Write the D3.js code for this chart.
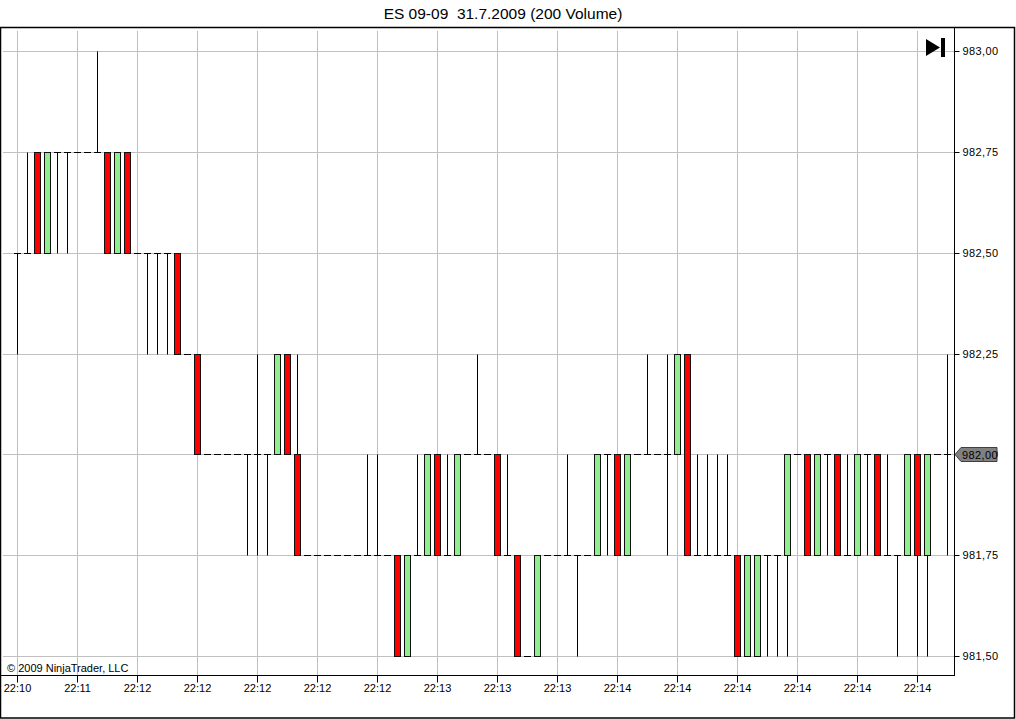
<!DOCTYPE html>
<html>
<head>
<meta charset="utf-8">
<script src="https://cdn.jsdelivr.net/npm/d3@7"></script>
<style>
  html, body { margin: 0; padding: 0; background: #fff; }
  svg { display: block; font-family: "Liberation Sans", Arial, sans-serif; }
</style>
</head>
<body>
<svg id="chart" width="1016" height="719"></svg>
<script>
const title = "ES 09-09  31.7.2009 (200 Volume)";
const copyright = "\u00A9 2009 NinjaTrader, LLC";

// OHLC per 200-volume bar
const opens = [
  982.50,982.50,982.75,982.50,982.75,982.75,982.75,982.75,982.75,982.75,
  982.50,982.75,982.50,982.50,982.50,982.50,982.50,982.25,982.25,982.00,
  982.00,982.00,982.00,982.00,982.00,982.00,982.00,982.25,982.00,981.75,
  981.75,981.75,981.75,981.75,981.75,981.75,981.75,981.75,981.75,981.50,
  981.75,981.75,982.00,981.75,981.75,982.00,982.00,982.00,982.00,981.75,
  981.75,981.50,981.50,981.75,981.75,981.75,981.75,981.75,981.75,982.00,
  982.00,981.75,982.00,982.00,982.00,982.00,982.00,982.25,981.75,981.75,
  981.75,981.75,981.75,981.50,981.50,981.75,981.75,981.75,982.00,982.00,
  981.75,982.00,982.00,981.75,981.75,982.00,982.00,981.75,981.75,981.75,
  982.00,981.75,982.00,982.00
];
const highs = [
  982.50,982.75,982.75,982.75,982.75,982.75,982.75,982.75,983.00,982.75,
  982.75,982.75,982.50,982.50,982.50,982.50,982.50,982.25,982.25,982.00,
  982.00,982.00,982.00,982.00,982.25,982.00,982.25,982.25,982.25,981.75,
  981.75,981.75,981.75,981.75,981.75,982.00,982.00,981.75,981.75,981.75,
  982.00,982.00,982.00,982.00,982.00,982.00,982.25,982.00,982.00,982.00,
  981.75,981.50,981.75,981.75,981.75,982.00,981.75,981.75,982.00,982.00,
  982.00,982.00,982.00,982.25,982.00,982.25,982.25,982.25,982.00,982.00,
  982.00,982.00,981.75,981.75,981.75,981.75,981.75,982.00,982.00,982.00,
  982.00,982.00,982.00,982.00,982.00,982.00,982.00,982.00,981.75,982.00,
  982.00,982.00,982.00,982.25
];
const lows = [
  982.25,982.50,982.50,982.50,982.50,982.50,982.75,982.75,982.75,982.50,
  982.50,982.50,982.50,982.25,982.25,982.25,982.25,982.25,982.00,982.00,
  982.00,982.00,982.00,981.75,981.75,981.75,982.00,982.00,981.75,981.75,
  981.75,981.75,981.75,981.75,981.75,981.75,981.75,981.75,981.50,981.50,
  981.75,981.75,981.75,981.75,981.75,982.00,982.00,982.00,981.75,981.75,
  981.50,981.50,981.50,981.75,981.75,981.75,981.50,981.75,981.75,981.75,
  981.75,981.75,982.00,982.00,982.00,981.75,982.00,981.75,981.75,981.75,
  981.75,981.75,981.50,981.50,981.50,981.50,981.50,981.50,982.00,981.75,
  981.75,981.75,981.75,981.75,981.75,981.75,981.75,981.75,981.50,981.75,
  981.50,981.50,982.00,981.75
];
const closes = [
  982.50,982.50,982.50,982.75,982.75,982.75,982.75,982.75,982.75,982.50,
  982.75,982.50,982.50,982.50,982.50,982.50,982.25,982.25,982.00,982.00,
  982.00,982.00,982.00,982.00,982.00,982.00,982.25,982.00,981.75,981.75,
  981.75,981.75,981.75,981.75,981.75,981.75,981.75,981.75,981.50,981.75,
  981.75,982.00,981.75,981.75,982.00,982.00,982.00,982.00,981.75,981.75,
  981.50,981.50,981.75,981.75,981.75,981.75,981.75,981.75,982.00,982.00,
  981.75,982.00,982.00,982.00,982.00,982.00,982.25,981.75,981.75,981.75,
  981.75,981.75,981.50,981.75,981.75,981.75,981.75,982.00,982.00,981.75,
  982.00,982.00,981.75,981.75,982.00,982.00,981.75,981.75,981.75,982.00,
  981.75,982.00,982.00,982.00
];

// x axis: one label every 6 bars
const xTickIndex = [0,6,12,18,24,30,36,42,48,54,60,66,72,78,84,90];
const xTickLabels = ["22:10","22:11","22:12","22:12","22:12","22:12","22:12","22:13",
                     "22:13","22:13","22:14","22:14","22:14","22:14","22:14","22:14"];
const yTicks = [981.50, 981.75, 982.00, 982.25, 982.50, 982.75, 983.00];
const lastPrice = 982.00;

const svg = d3.select("#chart");
const fmt = v => v.toFixed(2).replace(".", ",");

const n = opens.length;
const x = d3.scaleLinear().domain([0, n - 1]).range([17, 17 + 10 * (n - 1)]);
const y = d3.scaleLinear().domain([981.5, 983]).range([656, 51]);
const py = v => Math.round(y(v)) + 0.5;

const plotL = 3, plotR = 954, plotT = 27, plotB = 675;

// title
svg.append("text")
  .attr("x", 503).attr("y", 19)
  .attr("text-anchor", "middle")
  .attr("font-size", 15.5)
  .attr("fill", "#000")
  .style("white-space", "pre")
  .text(title);

// grid
const grid = svg.append("g");
grid.selectAll("line.h").data(yTicks).join("line")
  .attr("x1", plotL).attr("x2", plotR)
  .attr("y1", d => py(d)).attr("y2", d => py(d))
  .attr("stroke", "#c0c0c0").attr("stroke-width", 1);
grid.selectAll("line.v").data(xTickIndex).join("line")
  .attr("x1", d => x(d) + 0.5).attr("x2", d => x(d) + 0.5)
  .attr("y1", 31).attr("y2", plotB)
  .attr("stroke", "#c0c0c0").attr("stroke-width", 1);

// candles
const bars = d3.range(n).map(i => ({i, o: opens[i], h: highs[i], l: lows[i], c: closes[i]}));
const cg = svg.append("g");
// wicks
cg.selectAll("line.wick").data(bars.filter(d => d.h !== d.l)).join("line")
  .attr("x1", d => x(d.i) + 0.5).attr("x2", d => x(d.i) + 0.5)
  .attr("y1", d => py(d.h)).attr("y2", d => py(d.l))
  .attr("stroke", "#000").attr("stroke-width", 1);
// doji bodies
cg.selectAll("line.doji").data(bars.filter(d => d.o === d.c)).join("line")
  .attr("x1", d => x(d.i) - 3).attr("x2", d => x(d.i) + 4)
  .attr("y1", d => py(d.o)).attr("y2", d => py(d.o))
  .attr("stroke", "#000").attr("stroke-width", 1);
// bodies
cg.selectAll("rect.body").data(bars.filter(d => d.o !== d.c)).join("rect")
  .attr("x", d => x(d.i) - 2.5)
  .attr("width", 6)
  .attr("y", d => py(Math.max(d.o, d.c)))
  .attr("height", d => py(Math.min(d.o, d.c)) - py(Math.max(d.o, d.c)))
  .attr("fill", d => d.c > d.o ? "#90ee90" : "#ff0000")
  .attr("stroke", "#111").attr("stroke-width", 1);

// y axis (right)
const yAxis = d3.axisRight(y).tickValues(yTicks).tickFormat(fmt).tickSize(5).tickPadding(3);
const yg = svg.append("g").attr("transform", `translate(${plotR + 0.5},0)`).call(yAxis);
yg.select(".domain").remove();
yg.selectAll(".tick").attr("transform", d => `translate(0,${py(d)})`);
yg.selectAll("text").attr("font-size", 11).attr("font-family", "Liberation Sans, Arial, sans-serif")
  .attr("fill", "#000").style("letter-spacing", "0.4px");
yg.selectAll("line").attr("stroke", "#000");

// x axis (bottom)
const xAxis = d3.axisBottom(x).tickValues(xTickIndex)
  .tickFormat((d, k) => xTickLabels[k]).tickSize(7).tickPadding(2);
const xg = svg.append("g").attr("transform", `translate(0,${plotB + 0.5})`).call(xAxis);
xg.select(".domain").remove();
xg.selectAll(".tick").attr("transform", d => `translate(${x(d) + 0.5},0)`);
xg.selectAll("text").attr("font-size", 11).attr("font-family", "Liberation Sans, Arial, sans-serif").attr("fill", "#000");
xg.selectAll("line").attr("stroke", "#000");

// plot borders
svg.append("line").attr("x1", plotR + 0.5).attr("x2", plotR + 0.5).attr("y1", plotT).attr("y2", plotB + 1)
  .attr("stroke", "#000");
svg.append("line").attr("x1", 0).attr("x2", plotR + 1).attr("y1", plotB + 0.5).attr("y2", plotB + 0.5)
  .attr("stroke", "#000");
// outer frame
svg.append("rect").attr("x", 0.5).attr("y", 27.5).attr("width", 1014).attr("height", 690.5)
  .attr("fill", "none").attr("stroke", "#000").attr("stroke-width", 1.5);

// last price marker
const lp = py(lastPrice);
svg.append("path")
  .attr("d", `M${plotR + 1},${lp} L${plotR + 7},${lp - 7} L${plotR + 43},${lp - 7} L${plotR + 43},${lp + 7} L${plotR + 7},${lp + 7} Z`)
  .attr("fill", "#808080").attr("stroke", "#404040").attr("stroke-width", 1);
svg.append("text").attr("x", plotR + 8).attr("y", lp + 4)
  .attr("font-size", 11).attr("fill", "#000").style("letter-spacing", "0.4px")
  .text(fmt(lastPrice));

// play-to-end icon
svg.append("path").attr("d", "M926,39 L926,56 L940,47.5 Z").attr("fill", "#000");
svg.append("rect").attr("x", 941).attr("y", 38).attr("width", 4).attr("height", 19).attr("fill", "#000");

// copyright
svg.append("text").attr("x", 7).attr("y", 672).attr("font-size", 11).attr("fill", "#000").text(copyright);
</script>
</body>
</html>
